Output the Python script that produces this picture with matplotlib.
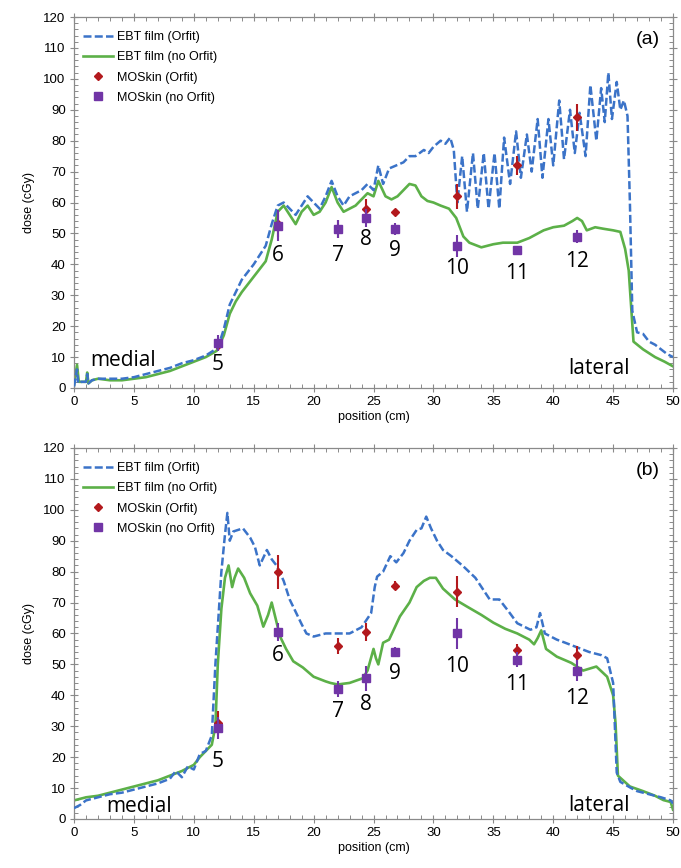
import matplotlib
matplotlib.use('Agg')
import matplotlib.pyplot as plt
from matplotlib.lines import Line2D
from matplotlib.ticker import MultipleLocator

# ---- panel (a) film profiles ----
xa_orfit = [0, 0.25, 0.35, 0.6, 1.0, 1.1, 1.2, 1.5, 2, 3, 4, 5, 6, 7, 8, 9, 10, 11, 12,
            12.5, 13, 13.5, 14, 14.5, 15, 15.5, 16, 16.5, 17, 17.5, 18, 18.5, 19, 19.5,
            20, 20.5, 21, 21.5, 22, 22.5, 23, 23.5, 24, 24.5, 25, 25.4, 25.8, 26.3,
            26.9, 27.5, 28, 28.5, 29.2, 29.6, 30, 30.6, 31.0, 31.4, 31.7, 32.0, 32.4,
            32.8, 33.3, 33.7, 34.2, 34.6, 35.1, 35.5, 35.9, 36.4, 36.9, 37.3, 37.8,
            38.2, 38.7, 39.1, 39.6, 40.0, 40.5, 40.9, 41.4, 41.8, 42.2, 42.7, 43.1,
            43.6, 44.0, 44.3, 44.6, 44.9, 45.3, 45.6, 45.9, 46.2, 46.4, 46.6, 47.0,
            47.5, 48, 48.5, 49, 49.5, 50]
ya_orfit = [0.5, 6, 1.5, 2, 2, 4.5, 1.5, 2.5, 3, 3, 3, 3.5, 4.5, 5.5, 6.5, 8, 9, 10.5, 13,
            19, 27, 31, 35, 37.5, 40, 43, 46, 53, 59, 60, 58, 56, 59, 62, 60, 58, 62, 67,
            62, 59, 62, 63, 64, 66, 64, 72, 66, 71, 72, 73, 75, 75, 77, 76, 78, 80, 79,
            81, 77, 60, 75, 57, 76, 58, 76, 58, 76, 58, 81, 66, 83, 68, 82, 70, 87, 68,
            87, 72, 93, 74, 90, 76, 89, 75, 98, 80, 97, 86, 102, 87, 99, 90, 93, 88,
            60, 25, 18, 17.5, 15, 14, 12.5, 11, 10]

xa_noorf = [0, 0.25, 0.4, 0.7, 1.0, 1.1, 1.2, 1.5, 2, 3, 4, 5, 6, 7, 8, 9, 10, 11, 11.9,
            12.5, 13, 13.5, 14, 14.5, 15, 15.5, 16, 16.5, 17, 17.5, 18, 18.5, 19, 19.5,
            20, 20.5, 21, 21.5, 22, 22.5, 23, 23.5, 24, 24.5, 25, 25.4, 26, 26.5, 27,
            27.5, 28, 28.5, 29, 29.5, 30, 30.6, 31.3, 31.9, 32.5, 33, 34, 35, 35.8, 37,
            38, 39.2, 40, 40.9, 41.6, 42.0, 42.4, 42.8, 43.5, 44.2, 45, 45.6, 46.0,
            46.3, 46.7, 47.5, 48.5, 49.3, 50]
ya_noorf = [1, 7.5, 2, 2, 2, 5, 1.5, 2.5, 3, 2.5, 2.5, 3, 3.5, 4.5, 5.5, 7, 8.5, 10,
            12, 17, 24, 28, 31, 33.5, 36, 38.5, 41, 48, 57, 59, 56, 53, 57, 59, 56, 57, 60,
            65, 60, 57, 58, 59, 61, 63, 62, 67, 62, 61, 62, 64, 66, 65.5, 62, 60.5, 60,
            59, 58, 55, 49, 47, 45.5, 46.5, 47, 47, 48.5, 51, 52, 52.5, 54, 55, 54, 51,
            52, 51.5, 51, 50.5, 45, 38, 15, 12.5, 10, 8.5, 7]

# ---- panel (b) film profiles ----
xb_orfit = [0, 0.5, 1, 2, 3, 4, 5, 6, 7, 8, 8.5, 9, 9.5, 10, 10.5, 11, 11.5, 11.8, 12.0,
            12.3, 12.6, 12.8, 13.0, 13.3, 14.1, 14.7, 15.1, 15.5, 16.1, 16.5, 16.9,
            17.5, 18, 18.5, 19, 19.4, 20, 21, 22, 23, 24, 24.8, 25.1, 25.3, 25.8, 26.4,
            26.9, 27.5, 28, 28.6, 29.0, 29.4, 29.8, 30.3, 30.8, 31.5, 32.5, 33.5, 34.7,
            35.5, 36.3, 37.0, 38.1, 38.6, 38.9, 39.3, 40.3, 41, 42, 43, 44, 44.5, 45.0,
            45.3, 45.6, 46.5, 47, 48, 49, 49.8, 50]
yb_orfit = [3.5, 4.5, 6, 7, 8, 8.5, 9.5, 10.5, 11.5, 13, 15.5, 13.5, 17, 16, 21, 22, 27,
            50, 62, 80, 92, 99, 90, 93, 94, 91, 88, 82, 87, 84, 82, 77, 71, 67, 63, 60,
            59, 60, 60, 60, 62, 66.6, 75, 78.4, 80, 85, 83, 86, 90, 93.5, 94, 97.8, 94,
            90, 87, 85, 81.7, 78, 71, 71, 67, 63.3, 61.2, 62, 66.6, 60, 58, 57, 55.5,
            54, 53, 52, 44, 15, 12, 10, 9, 8, 7, 6, 5]

xb_noorf = [0, 1, 2, 3, 4, 5, 6, 7, 8, 9, 10, 10.5, 11, 11.5, 11.8, 12.0, 12.3, 12.6,
            12.9, 13.2, 13.4, 13.7, 14.2, 14.7, 15.3, 15.8, 16.2, 16.5, 17.2, 17.7,
            18.3, 19.1, 20, 21, 21.4, 22, 23, 24.1, 24.5, 25.0, 25.2, 25.4, 25.8, 26.3,
            27.2, 28, 28.6, 29.2, 29.7, 30.2, 30.8, 31.8, 32.8, 34, 35, 36, 37, 38,
            38.4, 38.7, 39.0, 39.4, 40.3, 41.5, 42.5, 43.6, 44.5, 45.0, 45.2, 45.4,
            46.4, 47.5, 48.5, 49.2, 49.8, 50]
yb_noorf = [6, 7, 7.5, 8.5, 9.5, 10.5, 11.5, 12.5, 14, 15.5, 17.5, 20, 22, 24, 30, 50,
            68, 78, 82, 75, 78, 81, 78, 73, 69, 62.2, 66, 70, 59, 55, 51, 49, 46, 44.5,
            44, 43.5, 44, 45.5, 48, 55, 52, 50, 57, 58, 65.5, 70, 75, 77, 78, 78, 74.5,
            71, 68.7, 66, 63.5, 61.5, 60, 58, 56.5, 58.5, 61, 55, 52.5, 50.5, 48, 49.3,
            46, 40, 31, 14, 10.5, 9, 7.5, 6.1, 5.5, 3]

# ---- MOSkin detectors ----
det_pos = [12, 17, 22, 24.4, 26.8, 32, 37, 42]
det_labels = ['5', '6', '7', '8', '9', '10', '11', '12']
a_mos_orfit = [14, 53, 51.5, 58, 57, 62, 72, 87.5]
a_mos_orfit_err = [2, 4, 3, 3, 0.8, 4, 3, 4.3]
a_mos_noorf = [14.5, 52.5, 51.5, 55, 51.5, 46, 44.5, 49]
a_mos_noorf_err = [2.5, 5, 3, 3, 2, 3.5, 1.2, 2]
b_mos_orfit = [31, 80, 56, 60.5, 75.5, 73.5, 54.5, 53]
b_mos_orfit_err = [4, 5.5, 2.5, 3, 1.5, 5, 2, 3]
b_mos_noorf = [29.5, 60.5, 42, 45.5, 54, 60, 51.5, 48]
b_mos_noorf_err = [3.5, 3, 2.5, 4, 1.5, 5, 2.5, 3.5]

a_label_y = [7.5, 43, 42.7, 47.9, 44.4, 38.7, 37.1, 40.9]
b_label_y = [18.5, 53, 34.7, 36.9, 47.1, 49.3, 43.4, 39]

BLUE = '#3b73c8'
GREEN = '#5cb048'
RED = '#b3191d'
PURPLE = '#7135a6'
SPINE = '#8a8a8a'
TICKFONT = 'Liberation Sans'
NUMFONT = 'Open Sans'

fig = plt.figure(figsize=(6.81, 8.68), dpi=100)
ax_a = fig.add_axes([0.1087, 0.553, 0.8796, 0.4274])
ax_b = fig.add_axes([0.1087, 0.0565, 0.8796, 0.4274])


def draw_panel(ax, xo, yo, xn, yn, mo, moe, mn, mne, lab_y, tag, med_xy, lat_xy):
    ax.plot(xo, yo, color=BLUE, lw=1.8, dashes=(3.2, 1.3), zorder=3)
    ax.plot(xn, yn, color=GREEN, lw=1.9, zorder=2)
    ax.errorbar(det_pos, mo, yerr=moe, fmt='D', ms=4, color=RED, ecolor=RED,
                elinewidth=1.5, capsize=0, zorder=4)
    ax.errorbar(det_pos, mn, yerr=mne, fmt='s', ms=6, color=PURPLE, ecolor=PURPLE,
                elinewidth=1.5, capsize=0, zorder=5)
    for x, y, t in zip(det_pos, lab_y, det_labels):
        ax.text(x, y, t, ha='center', va='center', fontsize=15, family=NUMFONT)
    ax.text(med_xy[0], med_xy[1], 'medial', ha='center', va='center', fontsize=15, family=NUMFONT)
    ax.text(lat_xy[0], lat_xy[1], 'lateral', ha='center', va='center', fontsize=15, family=NUMFONT)
    ax.text(47.9, 112.8, tag, ha='center', va='center', fontsize=14, family=TICKFONT)

    ax.set_xlim(0, 50)
    ax.set_ylim(0, 120)
    ax.xaxis.set_major_locator(MultipleLocator(5))
    ax.xaxis.set_minor_locator(MultipleLocator(1))
    ax.yaxis.set_major_locator(MultipleLocator(10))
    ax.yaxis.set_minor_locator(MultipleLocator(2))
    ax.tick_params(which='major', direction='inout', length=6, width=0.8, color=SPINE,
                   top=True, right=True, labelsize=9.5, pad=3)
    ax.tick_params(which='minor', direction='in', length=3, width=0.7, color=SPINE,
                   top=True, right=True)
    for lbl in ax.get_xticklabels() + ax.get_yticklabels():
        lbl.set_family(TICKFONT)
    for sp in ax.spines.values():
        sp.set_color(SPINE)
        sp.set_linewidth(0.9)
    ax.set_xlabel('position (cm)', fontsize=9, family=TICKFONT, labelpad=2)
    ax.set_ylabel('dose (cGy)', fontsize=9, family=TICKFONT, labelpad=6)

    handles = [
        Line2D([], [], color=BLUE, lw=1.8, dashes=(3.2, 1.3)),
        Line2D([], [], color=GREEN, lw=1.9),
        Line2D([], [], ls='none', marker='D', ms=4, color=RED),
        Line2D([], [], ls='none', marker='s', ms=6, color=PURPLE),
    ]
    labels = ['EBT film (Orfit)', 'EBT film (no Orfit)', 'MOSkin (Orfit)', 'MOSkin (no Orfit)']
    ax.legend(handles, labels, loc='upper left', bbox_to_anchor=(0.0, 0.985),
              frameon=False, prop={'family': TICKFONT, 'size': 9},
              handlelength=2.4, handletextpad=0.3, labelspacing=0.65,
              borderaxespad=0.3)


draw_panel(ax_a, xa_orfit, ya_orfit, xa_noorf, ya_noorf,
           a_mos_orfit, a_mos_orfit_err, a_mos_noorf, a_mos_noorf_err,
           a_label_y, '(a)', (4.1, 9), (43.8, 6.4))
draw_panel(ax_b, xb_orfit, yb_orfit, xb_noorf, yb_noorf,
           b_mos_orfit, b_mos_orfit_err, b_mos_noorf, b_mos_noorf_err,
           b_label_y, '(b)', (5.4, 4), (43.8, 4.5))

fig.savefig('out.png', dpi=100)
